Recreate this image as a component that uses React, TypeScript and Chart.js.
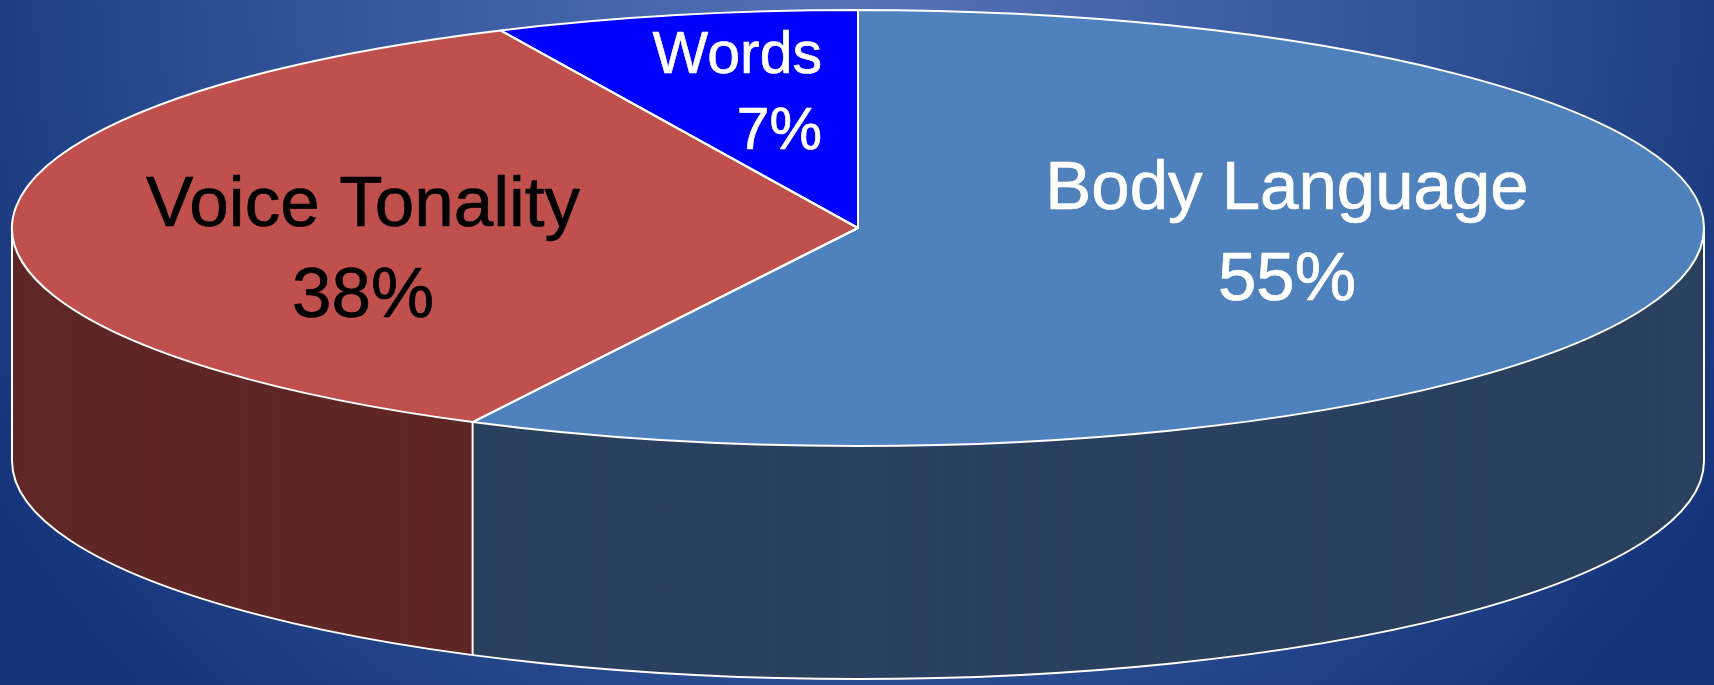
import React, { useEffect, useRef } from "react";
import { Chart, registerables } from "chart.js";

Chart.register(...registerables);

const categories = ["Body Language", "Voice Tonality", "Words"];
const values = [55, 38, 7];
const valueLabels = ["55%", "38%", "7%"];
const topColors = ["#4f81bd", "#c0504d", "#0000ff"];
const wallColors = ["#2a415f", "#5f2726", "#00007f"];
const textColors = ["#ffffff", "#000000", "#ffffff"];

// The source's 3D view widens the front of the pie: shift of each slice's closing edge, in degrees.
const viewShiftDeg = [9.1, 0.2, 0];

const CX = 858;
const CY = 228;
const RX = 846;
const RY = 218;
const DEPTH = 233;
const OUTLINE = "#ffffff";
const FONT = '"Liberation Sans", Arial, sans-serif';

const labelLayout = [
  { x: 1287, y1: 209, y2: 300, size1: 69, size2: 69, align: "center" },
  { x: 363, y1: 226, y2: 317, size1: 71, size2: 71, align: "center" },
  { x: 822, y1: 73, y2: 149, size1: 59, size2: 59, align: "right" },
];

const pie3d = {
  id: "pie3d",
  beforeDatasetDraw(chart: any, args: any) {
    const { ctx } = chart;
    const arcs = args.meta.data;
    const total = values.reduce((a, b) => a + b, 0);
    let sum = 0;
    let start = -Math.PI / 2;
    arcs.forEach((arc: any, i: number) => {
      sum += values[i];
      const end = -Math.PI / 2 + ((sum / total) * 360 + viewShiftDeg[i]) * (Math.PI / 180);
      arc.startAngle = start;
      arc.endAngle = end;
      arc.circumference = end - start;
      start = end;
    });
    const r = arcs[0].outerRadius;
    const ox = arcs[0].x;
    const oy = arcs[0].y;
    ctx.save();
    ctx.translate(CX, CY);
    ctx.scale(RX / r, RY / r);
    ctx.translate(-ox, -oy);
    // side wall: the same arcs stacked from the bottom up, in the darker colours
    const scaleY = RY / r;
    for (let d = DEPTH; d > 0; d--) {
      ctx.save();
      ctx.translate(0, d / scaleY);
      arcs.forEach((arc: any, i: number) => {
        const saved = arc.options;
        arc.options = {
          backgroundColor: wallColors[i],
          borderColor: wallColors[i],
          borderWidth: 0,
          borderAlign: "center",
          borderRadius: 0,
          borderJoinStyle: "round",
          circular: true,
          offset: 0,
          spacing: 0,
          hoverOffset: 0,
        };
        arc.draw(ctx, chart.chartArea);
        arc.options = saved;
      });
      ctx.restore();
    }
  },
  afterDatasetDraw(chart: any, args: any) {
    const { ctx } = chart;
    ctx.restore();
    const arcs = args.meta.data;
    ctx.save();
    ctx.strokeStyle = OUTLINE;
    ctx.lineWidth = 2;
    ctx.lineJoin = "round";
    // lower rim
    ctx.beginPath();
    ctx.ellipse(CX, CY + DEPTH, RX, RY, 0, 0, Math.PI);
    ctx.stroke();
    // wall edges
    const edge = arcs[0].endAngle;
    const ex = CX + RX * Math.cos(edge);
    const ey = CY + RY * Math.sin(edge);
    ctx.beginPath();
    ctx.moveTo(CX - RX, CY);
    ctx.lineTo(CX - RX, CY + DEPTH);
    ctx.moveTo(CX + RX, CY);
    ctx.lineTo(CX + RX, CY + DEPTH);
    ctx.moveTo(ex, ey);
    ctx.lineTo(ex, ey + DEPTH);
    ctx.stroke();
    // top face slices
    arcs.forEach((arc: any) => {
      ctx.beginPath();
      ctx.moveTo(CX, CY);
      ctx.ellipse(CX, CY, RX, RY, 0, arc.startAngle, arc.endAngle);
      ctx.closePath();
      ctx.stroke();
    });
    // labels
    ctx.textBaseline = "alphabetic";
    ctx.lineJoin = "round";
    categories.forEach((name, i) => {
      const l = labelLayout[i];
      ctx.fillStyle = textColors[i];
      ctx.strokeStyle = textColors[i];
      ctx.lineWidth = 0.7;
      ctx.textAlign = l.align;
      ctx.font = `${l.size1}px ${FONT}`;
      ctx.fillText(name, l.x, l.y1);
      ctx.strokeText(name, l.x, l.y1);
      ctx.font = `${l.size2}px ${FONT}`;
      ctx.fillText(valueLabels[i], l.x, l.y2);
      ctx.strokeText(valueLabels[i], l.x, l.y2);
    });
    ctx.restore();
  },
};

export default function App() {
  const ref = useRef<HTMLCanvasElement>(null);
  useEffect(() => {
    document.body.style.margin = "0";
    document.body.style.overflow = "hidden";
    const chart = new Chart(ref.current!, {
      type: "pie",
      data: {
        labels: categories,
        datasets: [
          {
            data: values,
            backgroundColor: topColors,
            borderWidth: 0,
            clip: false,
          } as any,
        ],
      },
      options: {
        animation: false,
        responsive: false,
        events: [],
        layout: { padding: 0 },
        plugins: { legend: { display: false }, tooltip: { enabled: false } },
      },
      plugins: [pie3d],
    });
    return () => chart.destroy();
  }, []);
  return (
    <div
      style={{
        width: 1714,
        height: 685,
        background:
          "radial-gradient(ellipse 1000px 1000px at 857px 0px, #5873b8 0%, #3f60a6 35%, #2a4b8f 68%, #15337a 100%)",
      }}
    >
      <canvas ref={ref} width={1714} height={685} style={{ display: "block" }} />
    </div>
  );
}
